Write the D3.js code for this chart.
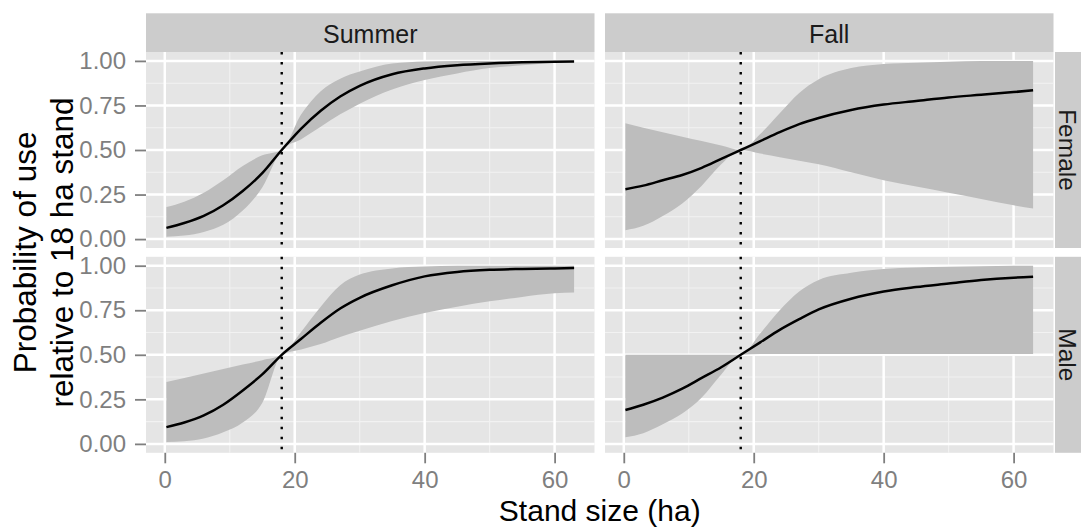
<!DOCTYPE html>
<html>
<head>
<meta charset="utf-8">
<script src="https://cdn.jsdelivr.net/npm/d3@7"></script>
<style>
  body { margin: 0; background: #ffffff; }
  svg { display: block; }
  text { font-family: "Liberation Sans", Arial, Helvetica, sans-serif; }
</style>
</head>
<body>
<svg id="chart" width="1081" height="527"></svg>
<script>
// ---------- data ----------
const seasons = ["Summer", "Fall"];
const sexes = ["Female", "Male"];
const standSize = [0.25, 3, 6, 9, 12, 15, 18, 21, 24, 27, 30, 35, 40, 45, 50, 55, 60, 63];

const summerFemaleFit = [0.063, 0.09, 0.13, 0.19, 0.27, 0.37, 0.50, 0.62, 0.72, 0.80, 0.86, 0.925, 0.958, 0.976, 0.986, 0.992, 0.995, 0.996];
const summerFemaleLo  = [0.013, 0.02, 0.04, 0.08, 0.16, 0.29, 0.50, 0.56, 0.63, 0.70, 0.76, 0.84, 0.893, 0.93, 0.96, 0.975, 0.99, 0.995];
const summerFemaleHi  = [0.18, 0.21, 0.26, 0.33, 0.41, 0.47, 0.50, 0.70, 0.83, 0.90, 0.94, 0.985, 0.996, 1, 1, 1, 1, 1];

const summerMaleFit = [0.094, 0.12, 0.16, 0.22, 0.30, 0.39, 0.50, 0.59, 0.68, 0.76, 0.82, 0.89, 0.94, 0.965, 0.977, 0.982, 0.985, 0.987];
const summerMaleLo  = [0.01, 0.015, 0.03, 0.065, 0.12, 0.23, 0.50, 0.53, 0.56, 0.60, 0.635, 0.69, 0.735, 0.77, 0.80, 0.825, 0.845, 0.85];
const summerMaleHi  = [0.347, 0.37, 0.395, 0.42, 0.445, 0.47, 0.50, 0.63, 0.77, 0.89, 0.95, 0.985, 0.995, 1, 1, 1, 1, 1];

const fallFemaleFit = [0.28, 0.30, 0.33, 0.36, 0.40, 0.45, 0.50, 0.55, 0.60, 0.645, 0.68, 0.725, 0.755, 0.775, 0.795, 0.81, 0.825, 0.835];
const fallFemaleLo  = [0.05, 0.075, 0.13, 0.20, 0.30, 0.42, 0.50, 0.48, 0.46, 0.44, 0.42, 0.375, 0.33, 0.295, 0.26, 0.225, 0.19, 0.172];
const fallFemaleHi  = [0.65, 0.625, 0.60, 0.575, 0.55, 0.525, 0.50, 0.59, 0.706, 0.82, 0.897, 0.96, 0.983, 0.99, 0.995, 1, 1, 1];

const fallMaleFit = [0.19, 0.22, 0.26, 0.31, 0.37, 0.43, 0.50, 0.57, 0.64, 0.70, 0.755, 0.815, 0.855, 0.88, 0.90, 0.92, 0.933, 0.938];
const fallMaleLo  = [0.037, 0.06, 0.11, 0.17, 0.26, 0.39, 0.50, 0.505, 0.505, 0.505, 0.505, 0.505, 0.505, 0.505, 0.505, 0.505, 0.505, 0.505];
const fallMaleHi  = [0.5, 0.5, 0.5, 0.5, 0.5, 0.5, 0.50, 0.62, 0.75, 0.855, 0.92, 0.96, 0.981, 0.99, 0.994, 0.997, 1, 1];

const referenceStand = 18;
const xTicks = [0, 20, 40, 60];
const xMinorTicks = [10, 30, 50];
const yTicks = [0, 0.25, 0.5, 0.75, 1];
const yTickLabels = ["0.00", "0.25", "0.50", "0.75", "1.00"];
const yMinorTicks = [0.125, 0.375, 0.625, 0.875];
const xTitle = "Stand size (ha)";
const yTitleLines = ["Probability of use", "relative to 18 ha stand"];

const panels = [
  { season: "Summer", sex: "Female", fit: summerFemaleFit, lo: summerFemaleLo, hi: summerFemaleHi },
  { season: "Fall",   sex: "Female", fit: fallFemaleFit,   lo: fallFemaleLo,   hi: fallFemaleHi },
  { season: "Summer", sex: "Male",   fit: summerMaleFit,   lo: summerMaleLo,   hi: summerMaleHi },
  { season: "Fall",   sex: "Male",   fit: fallMaleFit,     lo: fallMaleLo,     hi: fallMaleHi }
];

// ---------- layout ----------
const L = 146, colW = 448.5, colGap = 10.5;
const T = 52, rowH = 196, rowGap = 8.8;
const stripTop = 13.3, stripH = T - stripTop;
const rightStripX = L + 2 * colW + colGap + 1.5;

const C = {
  panel: "#E5E5E5", grid: "#FFFFFF", minor: "#F2F2F2", strip: "#CCCCCC",
  ribbon: "#BDBDBD", line: "#000000", tick: "#7F7F7F", text: "#1A1A1A"
};

const svg = d3.select("#chart");

const x = d3.scaleLinear().domain([-2.89, 66.14]).range([0, colW]);
const y = d3.scaleLinear().domain([-0.05, 1.05]).range([rowH, 0]);

const colX = s => L + seasons.indexOf(s) * (colW + colGap);
const rowY = s => T + sexes.indexOf(s) * (rowH + rowGap);

// strips on top
seasons.forEach(s => {
  svg.append("rect").attr("x", colX(s)).attr("y", stripTop).attr("width", colW).attr("height", stripH).attr("fill", C.strip);
  svg.append("text").attr("x", colX(s) + colW / 2).attr("y", 43.3)
    .attr("text-anchor", "middle").attr("font-size", 25).attr("fill", C.text).text(s);
});
// strips on right
sexes.forEach(s => {
  svg.append("rect").attr("x", rightStripX).attr("y", rowY(s)).attr("width", stripH).attr("height", rowH).attr("fill", C.strip);
  const cx = rightStripX + 3.5, cy = rowY(s) + rowH / 2;
  svg.append("text").attr("x", cx).attr("y", cy)
    .attr("transform", `rotate(90,${cx},${cy})`)
    .attr("text-anchor", "middle").attr("font-size", 24.5).attr("fill", C.text).text(s);
});

const area = d3.area().x((d, i) => x(standSize[i])).curve(d3.curveMonotoneX);
const line = d3.line().x((d, i) => x(standSize[i])).y(d => y(d)).curve(d3.curveMonotoneX);

panels.forEach(p => {
  const g = svg.append("g").attr("transform", `translate(${colX(p.season)},${rowY(p.sex)})`);
  g.append("rect").attr("width", colW).attr("height", rowH).attr("fill", C.panel);
  // minor grid
  g.selectAll(".mx").data(xMinorTicks).join("line")
    .attr("x1", d => x(d)).attr("x2", d => x(d)).attr("y1", 0).attr("y2", rowH)
    .attr("stroke", C.minor).attr("stroke-width", 1.1);
  g.selectAll(".my").data(yMinorTicks).join("line")
    .attr("x1", 0).attr("x2", colW).attr("y1", d => y(d)).attr("y2", d => y(d))
    .attr("stroke", C.minor).attr("stroke-width", 1.1);
  // major grid
  g.selectAll(".gx").data(xTicks).join("line")
    .attr("x1", d => x(d)).attr("x2", d => x(d)).attr("y1", 0).attr("y2", rowH)
    .attr("stroke", C.grid).attr("stroke-width", 2.5);
  g.selectAll(".gy").data(yTicks).join("line")
    .attr("x1", 0).attr("x2", colW).attr("y1", d => y(d)).attr("y2", d => y(d))
    .attr("stroke", C.grid).attr("stroke-width", 2.5);
  // ribbon
  g.append("path").datum(p.fit)
    .attr("d", area.y0((d, i) => y(p.lo[i])).y1((d, i) => y(p.hi[i])))
    .attr("fill", C.ribbon);
  // reference line
  g.append("line").attr("x1", x(referenceStand)).attr("x2", x(referenceStand))
    .attr("y1", 0).attr("y2", rowH)
    .attr("stroke", C.line).attr("stroke-width", 2.4).attr("stroke-dasharray", "2.4 7.6");
  // fitted curve
  g.append("path").datum(p.fit).attr("d", line)
    .attr("fill", "none").attr("stroke", C.line).attr("stroke-width", 2.5);
});

// axes
function styleAxis(sel) {
  sel.select(".domain").remove();
  sel.selectAll(".tick line").attr("stroke", C.tick).attr("stroke-width", 1.8);
  sel.selectAll(".tick text").attr("fill", C.tick).attr("font-size", 24)
    .attr("font-family", '"Liberation Sans", Arial, Helvetica, sans-serif');
}
sexes.forEach(s => {
  svg.append("g").attr("transform", `translate(${L},${rowY(s)})`)
    .call(d3.axisLeft(y).tickValues(yTicks).tickFormat((d, i) => yTickLabels[i]).tickSize(11).tickPadding(9))
    .call(styleAxis);
});
seasons.forEach(s => {
  svg.append("g").attr("transform", `translate(${colX(s)},${rowY("Male") + rowH})`)
    .call(d3.axisBottom(x).tickValues(xTicks).tickFormat(d3.format("d")).tickSize(10.5).tickPadding(8))
    .call(styleAxis);
});

// axis titles
const xc = L + colW + colGap / 2;
svg.append("text").attr("x", xc).attr("y", 520.5)
  .attr("text-anchor", "middle").attr("font-size", 30).attr("fill", "#000").text(xTitle);

const yc = T + (2 * rowH + rowGap) / 2;
[36, 73].forEach((bx, i) => {
  svg.append("text").attr("x", 0).attr("y", 0)
    .attr("transform", `translate(${bx},${yc}) rotate(-90)`)
    .attr("text-anchor", "middle").attr("font-size", 31.5).attr("fill", "#000").text(yTitleLines[i]);
});
</script>
</body>
</html>
